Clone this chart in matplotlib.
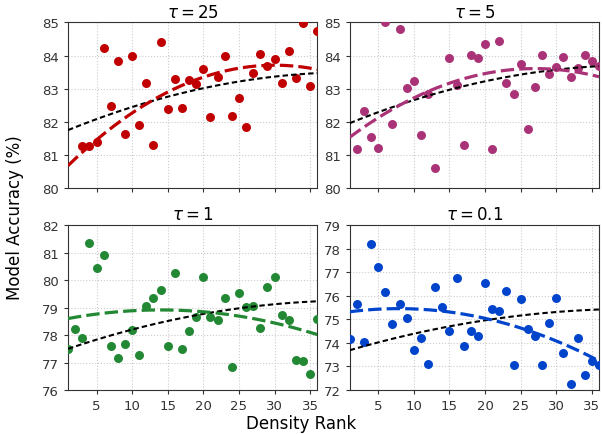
import numpy as np
from matplotlib import pyplot as plt

rank = np.arange(1, 37)

# accuracy per density rank, NaN where the point sits outside the view
acc_tau25 = [np.nan, np.nan, 81.25, 81.25, 81.38, 84.22, 82.46, 83.82, 81.62, 83.99,
             81.89, 83.16, 81.30, 84.41, 82.37, 83.29, 82.42, 83.25, 83.13, 83.59,
             82.13, 83.34, 83.97, 82.18, 82.70, 81.83, 83.47, 84.05, 83.68, 83.89,
             83.16, 84.15, 83.32, 84.98, 83.08, 84.73]
acc_tau5 = [np.nan, 81.16, 82.33, 81.54, 81.21, 85.00, 81.94, 84.79, 83.01, 83.24,
            81.59, 82.84, 80.59, np.nan, 83.91, 83.10, 81.30, 84.03, 83.91, 84.36,
            81.18, 84.43, 83.18, 82.82, 83.73, 81.78, 83.06, 84.03, 83.44, 83.66,
            83.94, 83.34, 83.62, 84.01, 83.82, 83.69]
acc_tau1 = [77.51, 78.23, 77.89, 81.36, 80.42, 80.92, 77.60, 77.15, 77.68, 78.20,
            77.26, 79.07, 79.36, 79.62, 77.60, 80.25, 77.49, 78.14, 78.65, 80.10,
            78.67, 78.54, 79.34, 76.83, 79.53, 79.02, 79.05, 78.27, 79.76, 80.10,
            78.73, 78.56, 77.09, 77.06, 76.58, 78.58]
acc_tau01 = [74.17, 75.66, 74.02, 78.18, 77.22, 76.15, 74.82, 75.63, 75.06, 73.69,
             74.20, 73.10, 76.39, 75.54, 74.50, 76.76, 73.86, 74.50, 74.30, 76.56,
             75.42, 75.34, 76.22, 73.07, 75.88, 74.58, 74.30, 73.07, 74.85, 75.91,
             73.59, 72.27, 74.19, 72.64, 73.23, 73.06]

titles = [r"$\tau = 25$", r"$\tau = 5$", r"$\tau = 1$", r"$\tau = 0.1$"]
colors = ["#c00000", "#aa3377", "#228833", "#0044cc"]
ylims = [(80, 85), (80, 85), (76, 82), (72, 79)]

# quadratic fit per panel (colored): c2, c1, c0
fit_coef = [[-0.003615, 0.2170, 80.45],
            [-0.003077, 0.1662, 81.36],
            [-0.001850, 0.0518, 78.55],
            [-0.002800, 0.0441, 75.28]]
# shared reference trend (black), same shape in every panel, own offset
ref_coef = [-0.00109, 0.0875]
ref_start = [81.74, 81.95, 77.50, 73.69]

fig, axes = plt.subplots(2, 2, figsize=(6.02, 4.35), dpi=100, sharex=True)
fig.subplots_adjust(left=0.113, right=0.995, top=0.946, bottom=0.101,
                    wspace=0.13, hspace=0.227)

data = [acc_tau25, acc_tau5, acc_tau1, acc_tau01]
xs = np.linspace(1, 36, 200)
for i, ax in enumerate(axes.flat):
    ax.scatter(rank, data[i], s=42, color=colors[i], zorder=3, linewidths=0)
    ref = ref_start[i] + ref_coef[1] * (xs - 1) + ref_coef[0] * (xs - 1) ** 2
    ax.plot(xs, ref, "--", color="black", lw=1.5, dashes=(2.6, 1.5), zorder=4)
    ax.plot(xs, np.polyval(fit_coef[i], xs), "--", color=colors[i], lw=2.3,
            dashes=(4.2, 1.6), zorder=4)
    ax.set_title(titles[i], fontsize=12, pad=4)
    ax.set_xlim(1, 36)
    ax.set_ylim(*ylims[i])
    ax.set_xticks(np.arange(5, 36, 5))
    ax.set_yticks(np.arange(ylims[i][0], ylims[i][1] + 1))
    ax.tick_params(labelsize=9.5, colors="#333333", length=3)
    ax.grid(True, linestyle=":", color="#cccccc", lw=0.8)
    for s in ax.spines.values():
        s.set_color("#333333")

fig.supxlabel("Density Rank", fontsize=12, y=0.005)
fig.supylabel("Model Accuracy (%)", fontsize=12, x=0.01)
plt.savefig("out.png")
